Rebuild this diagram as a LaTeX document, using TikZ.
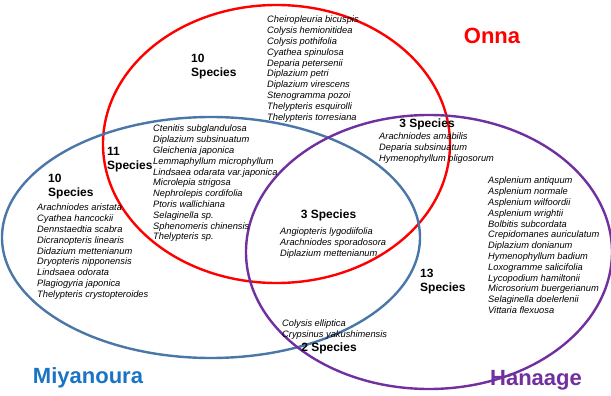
\documentclass[tikz,border=0pt]{standalone}
\usepackage{fontspec}
\setmainfont{Liberation Sans}
\definecolor{onnared}{HTML}{FF0000}
\definecolor{miyablue}{HTML}{4A77A8}
\definecolor{miyatext}{HTML}{1A73C4}
\definecolor{hanapurple}{HTML}{7030A0}
\tikzset{
  sp/.style={font=\fontsize{9.3}{10.8}\selectfont\itshape, align=left, anchor=north west, inner sep=0pt},
  cnt/.style={font=\fontsize{12}{14.5}\selectfont\bfseries, align=left, anchor=north west, inner sep=0pt},
  cntc/.style={font=\fontsize{12}{14.5}\selectfont\bfseries, inner sep=0pt},
  site/.style={font=\fontsize{22}{26}\selectfont\bfseries, inner sep=0pt},
  ring/.style={line width=2.4pt},
}
\begin{document}
\begin{tikzpicture}[x=1pt,y=-1pt]
\useasboundingbox (0,0) rectangle (611,396);
\fill[white] (0,0) rectangle (611,396);
% ellipses
\draw[ring, onnared] (276.5,144) ellipse [x radius=173.5, y radius=139];
\draw[ring, miyablue] (211,237.5) ellipse [x radius=209, y radius=120.5];
\draw[ring, hanapurple] (429,252) ellipse [x radius=183, y radius=137];
% site labels
\node[site, text=onnared] (onna) at (492,36) {Onna};
\node[site, text=miyatext] (miya) at (88,378) {Miyanoura};
\node[site, text=hanapurple] (hana) at (536,380) {Hanaage};
% Onna only
\node[cnt] (cO) at (191,53.7) {10\\Species};
\node[sp] (lO) at (267,16) {Cheiropleuria bicuspis\\Colysis hemionitidea\\Colysis pothifolia\\Cyathea spinulosa\\Deparia petersenii\\Diplazium petri\\Diplazium virescens\\Stenogramma pozoi\\Thelypteris esquirolli\\Thelypteris torresiana};
% Onna & Miyanoura
\node[cnt] (cOM) at (107,146.7) {11\\Species};
\node[sp] (lOM) at (153,125) {Ctenitis subglandulosa\\Diplazium subsinuatum\\Gleichenia japonica\\Lemmaphyllum microphyllum\\Lindsaea odarata var.japonica\\Microlepia strigosa\\Nephrolepis cordifolia\\Ptoris wallichiana\\Selaginella sp.\\Sphenomeris chinensis\\Thelypteris sp.};
% Miyanoura only
\node[cnt] (cM) at (48,173.7) {10\\Species};
\node[sp] (lM) at (37,204) {Arachniodes aristata\\Cyathea hancockii\\Dennstaedtia scabra\\Dicranopteris linearis\\Didazium mettenianum\\Dryopteris nipponensis\\Lindsaea odorata\\Plagiogyria japonica\\Thelypteris crystopteroides};
% Onna & Hanaage
\node[cntc] (cOH) at (427,124) {3 Species};
\node[sp] (lOH) at (379,133) {Arachniodes amabilis\\Deparia subsinuatum\\Hymenophyllum oligosorum};
% Hanaage only
\node[sp] (lH) at (488,177) {Asplenium antiquum\\Asplenium normale\\Asplenium wilfoordii\\Asplenium wrightii\\Bolbitis subcordata\\Crepidomanes auriculatum\\Diplazium donianum\\Hymenophyllum badium\\Loxogramme salicifolia\\Lycopodium hamiltonii\\Microsorium buergerianum\\Selaginella doelerlenii\\Vittaria flexuosa};
\node[cnt] (cH) at (420,268.7) {13\\Species};
% all three
\node[cntc] (cA) at (328.5,215) {3 Species};
\node[sp] (lA) at (280,228) {Angiopteris lygodiifolia\\Arachniodes sporadosora\\Diplazium mettenianum};
% Miyanoura & Hanaage
\node[sp] (lMH) at (282,320) {Colysis elliptica\\Crypsinus yakushimensis};
\node[cntc] (cMH) at (329,348) {2 Species};
\end{tikzpicture}
\end{document}
